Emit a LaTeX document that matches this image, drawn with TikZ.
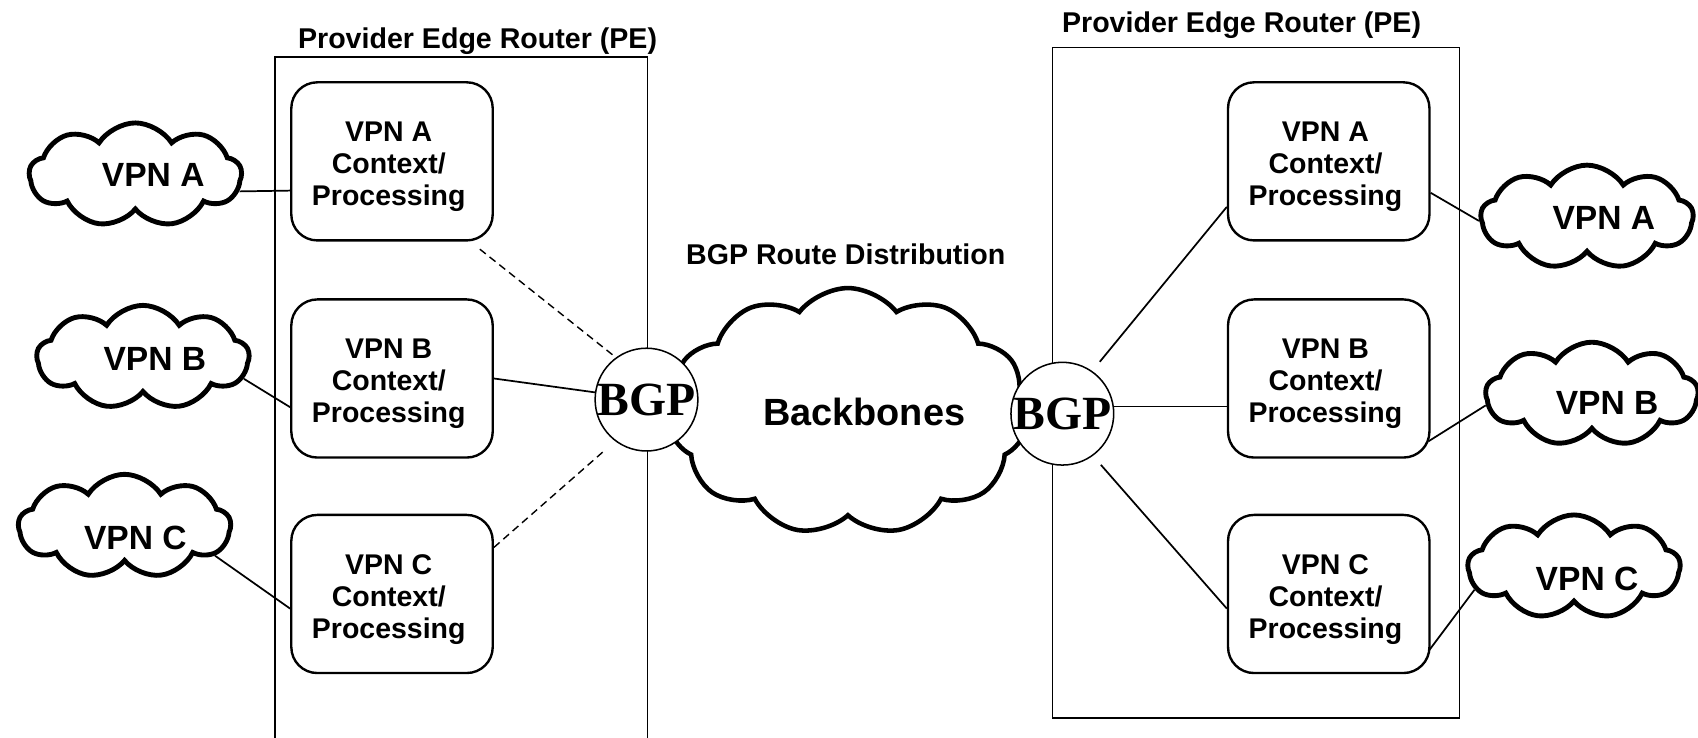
\documentclass[tikz,border=0pt]{standalone}
\usepackage{fontspec}
\setmainfont{Liberation Sans}
\newfontfamily\bgpfont{Liberation Serif}
\usetikzlibrary{shapes.symbols,calc}
\begin{document}
\begin{tikzpicture}[x=1pt,y=-1pt,
  pebox/.style={draw, line width=1.6pt, rectangle, inner sep=0pt, anchor=north west},
  ctxbox/.style={draw, line width=2.2pt, rounded corners=24pt, minimum width=186pt, minimum height=146pt, inner sep=0pt},
  ctxtext/.style={inner sep=0pt, align=center, font=\bfseries\fontsize{26.3}{29.3}\selectfont},
  vpncloud/.style={draw, line width=4.5pt, cloud, cloud puffs=9, cloud puff arc=115, minimum width=196pt, minimum height=96pt, inner sep=0pt},
  cloudtext/.style={font=\bfseries\fontsize{31}{31}\selectfont, inner sep=0pt},
  titletext/.style={font=\bfseries\fontsize{26.4}{30}\selectfont, inner sep=0pt, anchor=base},
  bgp/.style={circle, draw, line width=1.4pt, fill=white, minimum size=93pt, inner sep=0pt, font=\bgpfont\bfseries\fontsize{44}{44}\selectfont},
  conn/.style={line width=1.6pt},
  dconn/.style={line width=1.3pt, dash pattern=on 7pt off 4.5pt}
]
\useasboundingbox[fill=white] (0,0) rectangle (1568,681);

% Provider edge router frames
\node[pebox, minimum width=344pt, minimum height=700pt] (lpe) at (253,52) {};
\node[pebox, minimum width=376pt, minimum height=619pt] (rpe) at (971,43) {};
\node[titletext] (lpet) at (441,44.5) {Provider Edge Router (PE)};
\node[titletext] (rpet) at (1146.5,30) {Provider Edge Router (PE)};

% Backbone cloud
\node[cloud, draw, line width=4.2pt, fill=white, cloud puffs=11, cloud puff arc=105, minimum width=332pt, minimum height=228pt, inner sep=0pt] (bb) at (783,380) {};
\node[font=\bfseries\fontsize{35}{35}\selectfont, inner sep=0pt, anchor=base] (bbt) at (798,392.5) {Backbones};
\node[titletext] (bgpt) at (781,244.5) {BGP Route Distribution};

% BGP speakers
\node[bgp] (lbgp) at (597,369) {BGP};
\node[bgp] (rbgp) at (981,382) {BGP};

% Context boxes
\node[ctxbox] (lbA) at (362,149) {};
\node[ctxbox] (lbB) at (362,349.5) {};
\node[ctxbox] (lbC) at (362,548.5) {};
\node[ctxbox] (rbA) at (1227,149) {};
\node[ctxbox] (rbB) at (1227,349.5) {};
\node[ctxbox] (rbC) at (1227,548.5) {};
\node[ctxtext] (lbAt) at (359,154) {VPN A\\Context/\\Processing};
\node[ctxtext] (lbBt) at (359,354.5) {VPN B\\Context/\\Processing};
\node[ctxtext] (lbCt) at (359,553.5) {VPN C\\Context/\\Processing};
\node[ctxtext] (rbAt) at (1224,154) {VPN A\\Context/\\Processing};
\node[ctxtext] (rbBt) at (1224,354.5) {VPN B\\Context/\\Processing};
\node[ctxtext] (rbCt) at (1224,553.5) {VPN C\\Context/\\Processing};

% VPN site clouds
\node[vpncloud] (lcA) at (125,161.5) {};
\node[vpncloud] (lcB) at (132,330) {};
\node[vpncloud] (lcC) at (115,486) {};
\node[vpncloud] (rcA) at (1465.5,200.5) {};
\node[vpncloud] (rcB) at (1470,364) {};
\node[vpncloud] (rcC) at (1453.5,523.5) {};
\node[cloudtext] (lcAt) at (141.5,161.5) {VPN A};
\node[cloudtext] (lcBt) at (143,331) {VPN B};
\node[cloudtext] (lcCt) at (125,497) {VPN C};
\node[cloudtext] (rcAt) at (1481,201.5) {VPN A};
\node[cloudtext] (rcBt) at (1484,372) {VPN B};
\node[cloudtext] (rcCt) at (1465.5,535) {VPN C};

% Left side connectors
\draw[conn] (lcA.-9) -- ([yshift=-27pt]lbA.west);
\draw[conn] (lcB.-12) -- ([yshift=-26.5pt]lbB.west);
\draw[conn] (lcC.-18) -- ([yshift=-13.5pt]lbC.west);
\draw[dconn] ([xshift=-13pt,yshift=-7pt]lbA.south east) -- (lbgp.126);
\draw[conn] (lbB.east) -- (lbgp.172);
\draw[dconn, shorten >=12pt] ([yshift=43pt]lbC.east) -- (lbgp.233);

% Right side connectors
\draw[conn, shorten <=11pt] (rbgp.55) -- ([yshift=-42pt]rbA.west);
\draw[conn] (rbgp.8) -- (rbgp.8 -| rbB.west);
\draw[conn, shorten <=11pt] (rbgp.-54) -- ([yshift=-13.5pt]rbC.west);
\draw[conn] ([yshift=-29pt]rbA.east) -- (rcA.182);
\draw[conn] ([xshift=-2pt,yshift=-58pt]rbB.east) -- (rcB.186);
\draw[conn] ([xshift=-1pt,yshift=-51.5pt]rbC.east) -- (rcC.193);
\end{tikzpicture}
\end{document}
